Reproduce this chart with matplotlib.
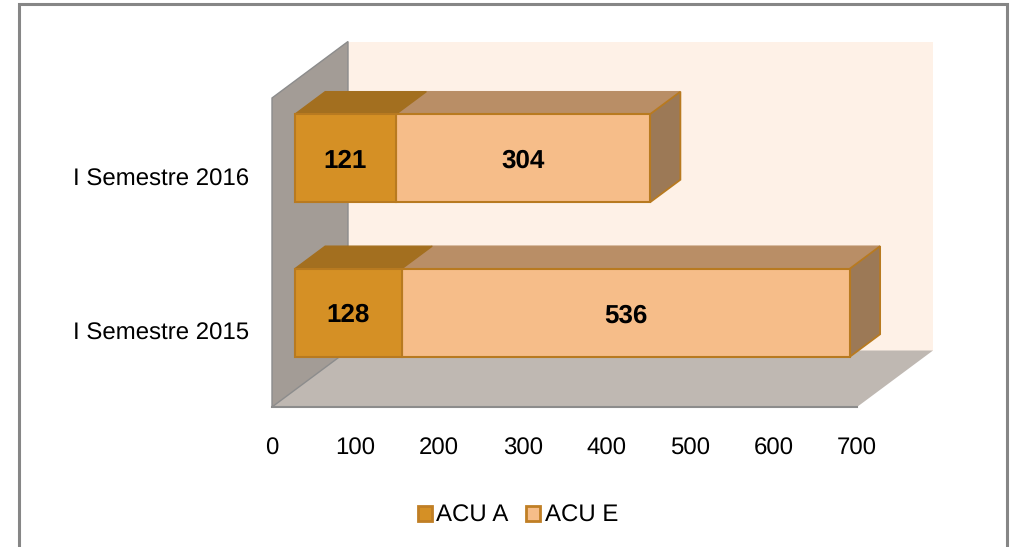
import matplotlib
matplotlib.use('Agg')
import matplotlib.pyplot as plt
from matplotlib.patches import Polygon, Rectangle, Patch
from matplotlib.transforms import ScaledTranslation

# datos
semestres = ['I Semestre 2015', 'I Semestre 2016']
acu_a = [128, 121]
acu_e = [536, 304]
ticks_x = [0, 100, 200, 300, 400, 500, 600, 700]

plt.rcParams['font.family'] = ['Liberation Sans', 'DejaVu Sans']
plt.rcParams['text.hinting'] = 'no_hinting'
plt.rcParams['text.hinting_factor'] = 1

W, H = 1015, 547
fig = plt.figure(figsize=(W / 100, H / 100), dpi=100)
# el eje coincide con el plano frontal del grafico 3D
ax = fig.add_axes([272 / W, 1 - 407 / H, 585 / W, 309 / H])
ax.set_xlim(0, 700)
ax.set_ylim(-0.5, 1.5)
for s in ax.spines.values():
    s.set_visible(False)
ax.patch.set_visible(False)

# profundidad (en unidades de datos)
dx = 76 / 585 * 700
dy = 56.5 / 154.5
ini = 0.30
fin = 0.70
alto = 0.57

def caja(x0, x1, y, col_frente, col_arriba, col_lado, lado=False):
    ox0, oy0 = dx * ini, dy * ini
    ox1, oy1 = dx * fin, dy * fin
    abajo = y - alto / 2
    arriba = y + alto / 2
    ax.add_patch(Polygon([(x0 + ox0, arriba + oy0), (x1 + ox0, arriba + oy0),
                          (x1 + ox1, arriba + oy1), (x0 + ox1, arriba + oy1)],
                         fc=col_arriba, ec=col_arriba, lw=1, zorder=4, clip_on=False))
    if lado:
        ax.add_patch(Polygon([(x1 + ox0, abajo + oy0), (x1 + ox1, abajo + oy1),
                              (x1 + ox1, arriba + oy1), (x1 + ox0, arriba + oy0)],
                             fc=col_lado, ec='#b87a20', lw=1.3, zorder=4, clip_on=False))
    ax.barh(y + oy0, x1 - x0, height=alto, left=x0 + ox0, color=col_frente,
            edgecolor='#b87a20', linewidth=1.5, zorder=5, clip_on=False)

# paredes y piso
ax.add_patch(Polygon([(dx, -0.5 + dy), (700 + dx, -0.5 + dy), (700 + dx, 1.5 + dy), (dx, 1.5 + dy)],
                     fc='#fef1e7', ec='none', zorder=1, clip_on=False))
ax.add_patch(Polygon([(0, -0.5), (700, -0.5), (700 + dx, -0.5 + dy), (dx, -0.5 + dy)],
                     fc='#bfb8b2', ec='none', zorder=2, clip_on=False))
ax.add_patch(Polygon([(0, -0.5), (dx, -0.5 + dy), (dx, 1.5 + dy), (0, 1.5)],
                     fc='#a39c96', ec='#8c8c8c', lw=1, zorder=3, clip_on=False))
ax.plot([0, 700], [-0.5, -0.5], color='#8c8c8c', lw=1.5, zorder=3, clip_on=False)

for i in range(len(semestres)):
    a = acu_a[i]
    e = acu_e[i]
    caja(a, a + e, i, '#f6bd89', '#b98e66', '#9c7956', lado=True)
    caja(0, a, i, '#d59025', '#a36f1f', '#9c7956')
    ax.text(a / 2 + dx * ini, i + dy * ini, str(a), ha='center', va='center_baseline',
            fontsize=18.8, fontweight='bold', zorder=6)
    ax.text(a + e / 2 + dx * ini, i + dy * ini, str(e), ha='center', va='center_baseline',
            fontsize=18.8, fontweight='bold', zorder=6)

ax.set_xticks(ticks_x)
ax.set_yticks(range(len(semestres)))
ax.set_yticklabels(semestres)
ax.tick_params(axis='both', length=0, labelsize=17.4, colors='black')
ax.tick_params(axis='x', pad=22)
ax.tick_params(axis='y', pad=16.5)
desplaza = ScaledTranslation(0, -1.5 / 100, fig.dpi_scale_trans)
for t in ax.get_yticklabels():
    t.set_transform(t.get_transform() + desplaza)

# leyenda
fig.legend(handles=[Patch(fc='#d59025', ec='#c07f25', lw=2, label='ACU A'),
                    Patch(fc='#f6bd89', ec='#c07f25', lw=2, label='ACU E')],
           loc='center', bbox_to_anchor=(518 / W, 1 - 516 / H), ncol=2, frameon=False,
           fontsize=17.6, handlelength=0.57, handleheight=0.57, handletextpad=0.18,
           columnspacing=0.73)

# marco exterior
fig.add_artist(Rectangle((19 / W, -0.02), 988 / W, 1 - 4 / H + 0.02, transform=fig.transFigure,
                         fc='none', ec='#868686', lw=2.2))

fig.savefig('out.png', dpi=100)
